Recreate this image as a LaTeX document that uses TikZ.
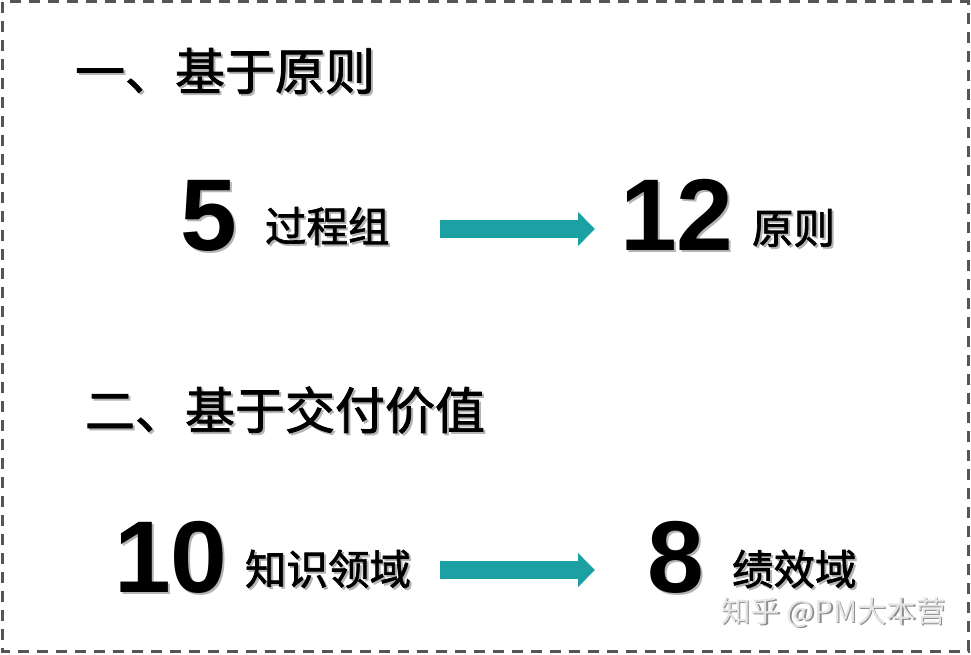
\documentclass[tikz,border=0pt]{standalone}
\usepackage{fontspec}
\setmainfont{Liberation Sans}
\newfontfamily\cjk{Noto Sans CJK SC}[FakeBold=1.6]
\newfontfamily\cjkw{Noto Sans CJK SC}
\newfontfamily\num{Liberation Sans}
\usetikzlibrary{arrows.meta}
\definecolor{teal1}{RGB}{27,160,164}
\definecolor{border}{RGB}{85,85,85}
\definecolor{shadowc}{RGB}{180,180,180}
\newcommand\shtxt[1]{\rlap{\kern2pt\raisebox{-2pt}{\textcolor{shadowc}{#1}}}#1}
\newcommand\wmtxt[1]{\rlap{\kern1.5pt\raisebox{-1.5pt}{\textcolor{black!45}{#1}}}\textcolor{black!10}{#1}}
\tikzset{
  txt/.style={inner sep=0pt, outer sep=0pt, text=black},
  head/.style={font=\cjk\fontsize{50}{54}\selectfont},
  big/.style={font=\num\bfseries\fontsize{102}{108}\selectfont},
  lab/.style={font=\cjk\fontsize{41.5}{45}\selectfont},
  flow/.style={draw=teal1, line width=18pt, line cap=butt, -{Triangle[length=17pt,width=33pt]}},
  frame/.style={draw=border, line width=3pt, dash pattern=on 11pt off 8pt},
  wm/.style={inner sep=0pt, outer sep=0pt, font=\cjkw\fontsize{29.5}{32}\selectfont}
}
\begin{document}
\begin{tikzpicture}[x=1pt,y=-1pt]
\useasboundingbox (0,0) rectangle (971,655);
\fill[white] (0,0) rectangle (971,655);
\draw[frame] (2,2) rectangle (968,651);

% headings
\node[txt,head,anchor=west] (h1) at (75,72) {\shtxt{一、基于原则}};
\node[txt,head,anchor=west] (h2) at (85,411) {\shtxt{二、基于交付价值}};

% row 1
\node[txt,big,anchor=base west] (n5) at (180,250) {\shtxt{5}};
\node[txt,lab,anchor=west] (l1) at (265,227) {\shtxt{过程组}};
\node[txt,big,anchor=base west] (n12) at (620,250) {\shtxt{12}};
\node[txt,lab,anchor=west] (l2) at (752,229) {\shtxt{原则}};

% row 2
\node[txt,big,anchor=base west] (n10) at (114,592) {\shtxt{10}};
\node[txt,lab,anchor=west] (l3) at (245,570) {\shtxt{知识领域}};
\node[txt,big,anchor=base west] (n8) at (647,592) {\shtxt{8}};
\node[txt,lab,anchor=west] (l4) at (732,570) {\shtxt{绩效域}};

% arrows
\coordinate (a1s) at (440,229);
\coordinate (a1e) at (595,229);
\coordinate (a2s) at (440,570);
\coordinate (a2e) at (595,570);
\draw[flow] (a1s) -- (a1e);
\draw[flow] (a2s) -- (a2e);

% watermark
\node[wm,anchor=west] (wm) at (721,613) {\wmtxt{知乎 @PM大本营}};
\end{tikzpicture}
\end{document}
